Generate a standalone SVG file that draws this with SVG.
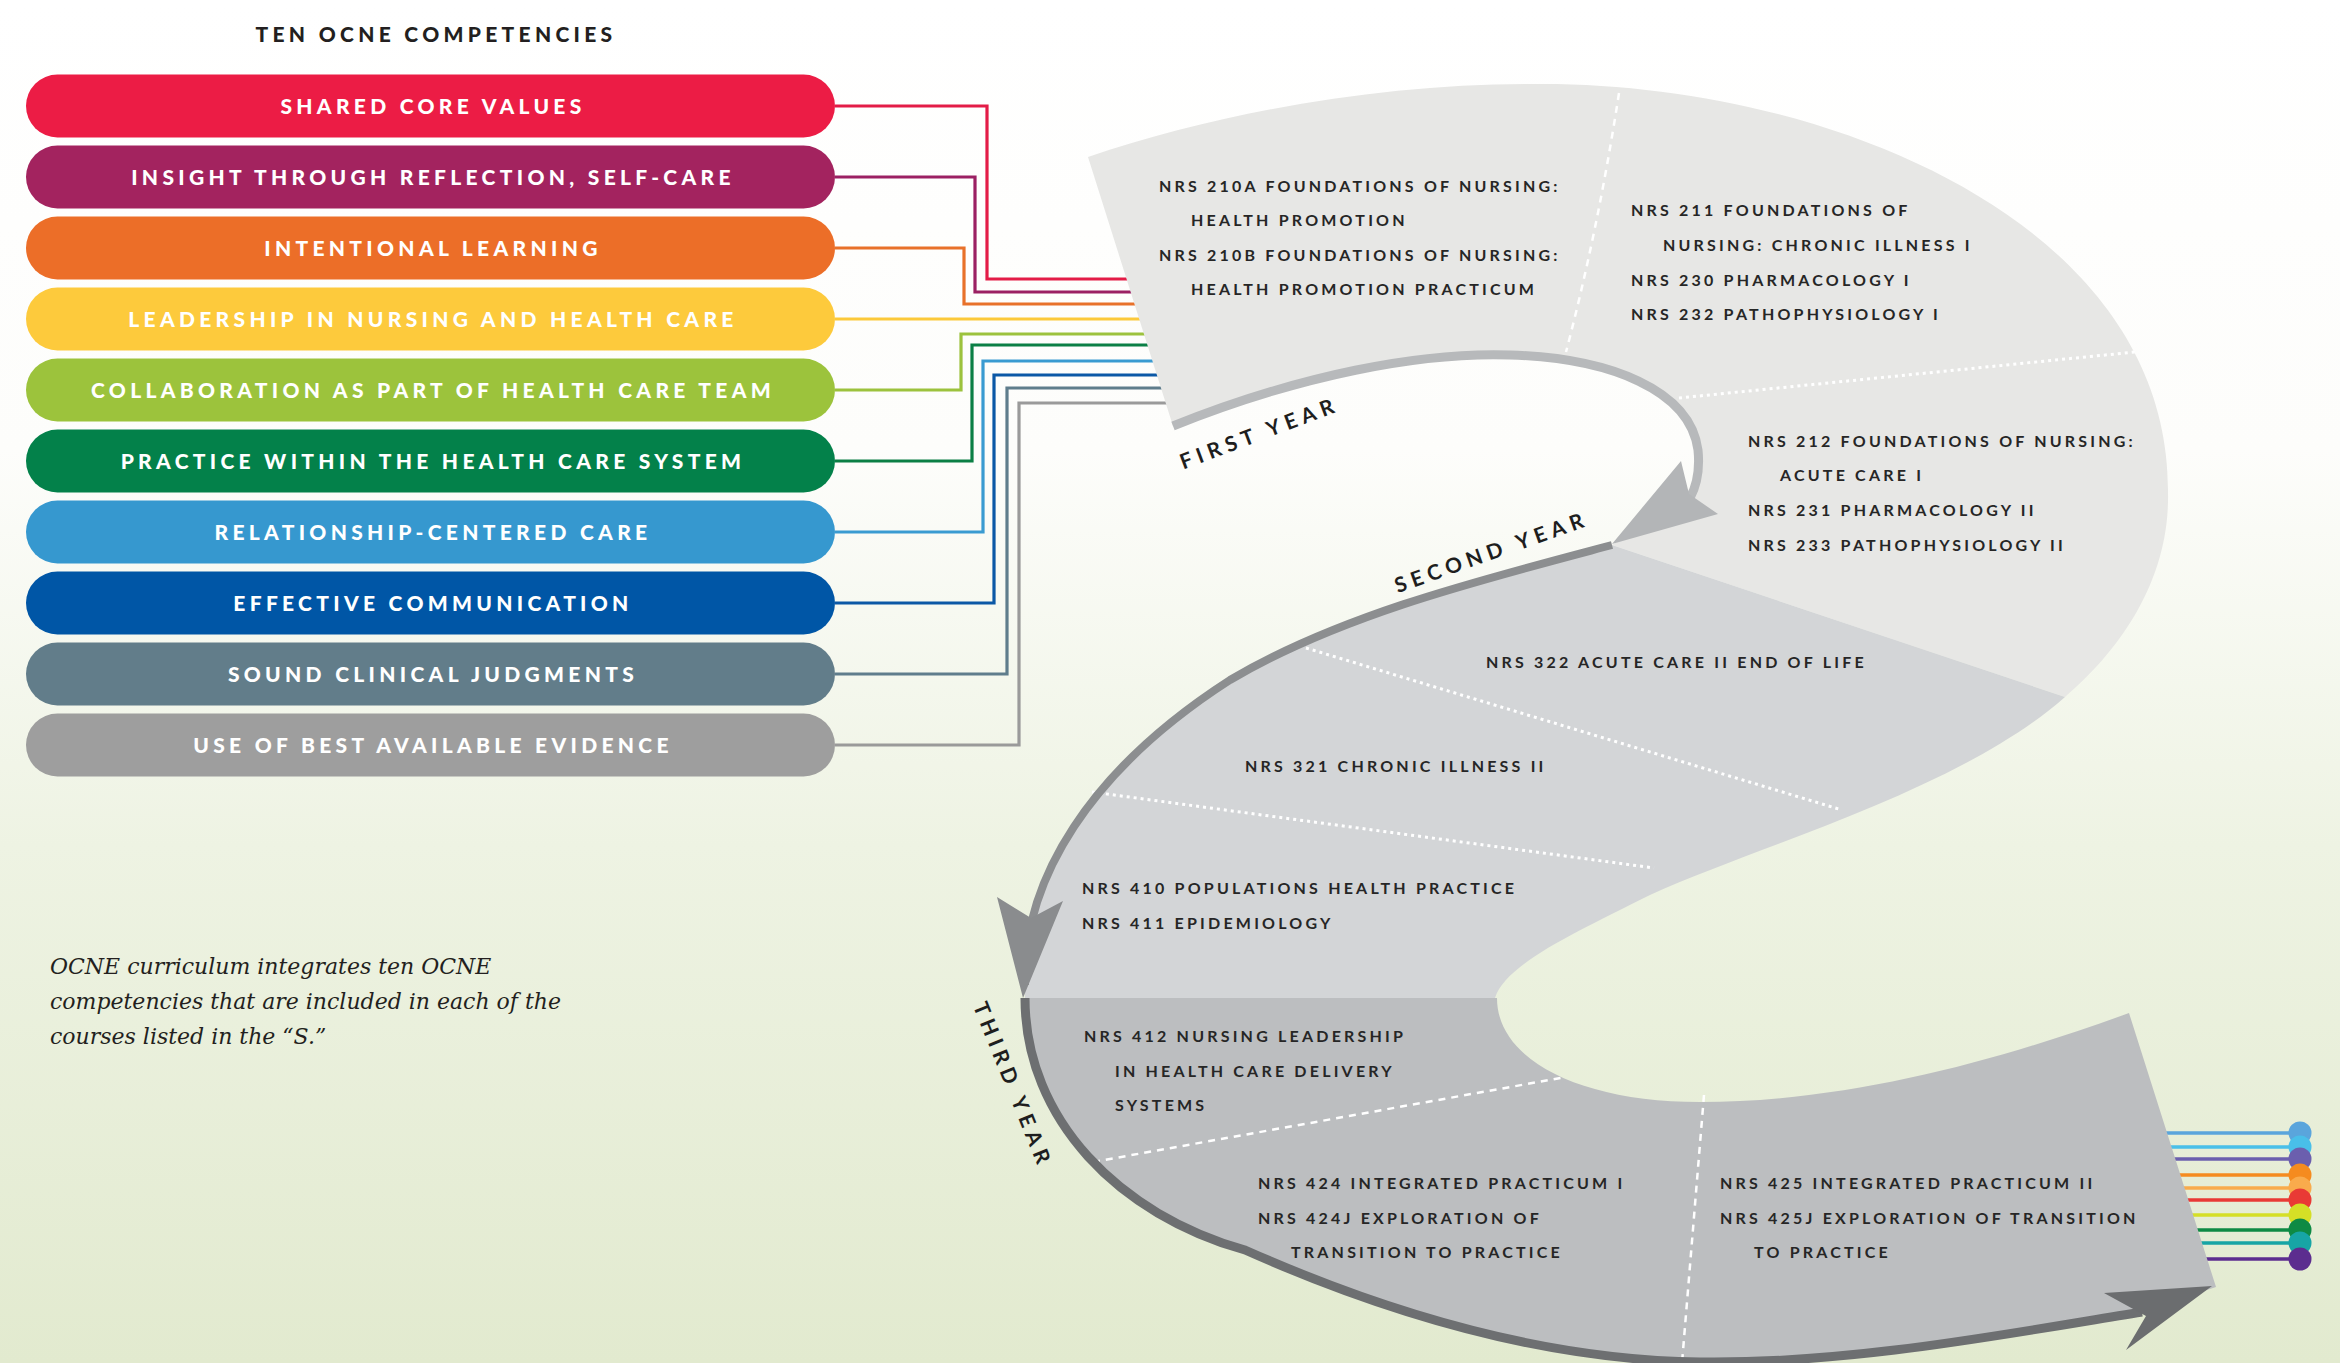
<svg xmlns="http://www.w3.org/2000/svg" width="2340" height="1363" viewBox="0 0 2340 1363">
<defs>
<linearGradient id="bg" x1="0" y1="0" x2="0" y2="1">
<stop offset="0" stop-color="#ffffff"/>
<stop offset="0.33" stop-color="#fdfdfb"/>
<stop offset="0.62" stop-color="#eef3e3"/>
<stop offset="1" stop-color="#e2eacf"/>
</linearGradient>
<style>
.pill{stroke:none}
.pt{font-family:Lato,"Liberation Sans",sans-serif;font-weight:900;font-size:21px;letter-spacing:4.3px;fill:#ffffff;text-anchor:middle}
.ttl{font-family:Lato,"Liberation Sans",sans-serif;font-weight:900;font-size:21px;letter-spacing:4.3px;fill:#231f20;text-anchor:middle}
.c{font-family:Lato,"Liberation Sans",sans-serif;font-weight:700;font-size:16px;letter-spacing:3.2px;fill:#262626}
.yr{font-family:Lato,"Liberation Sans",sans-serif;font-weight:700;font-size:21px;letter-spacing:5.5px;fill:#1e1e1e;text-anchor:middle}
.cap{font-family:"DejaVu Serif",serif;font-style:italic;font-size:22px;fill:#231f20}
.con{fill:none;stroke-width:3.2}
.rl{fill:none;stroke-width:3.5}
.dash{fill:none;stroke:#ffffff;stroke-width:2.5;stroke-dasharray:7 6}
.dot{fill:none;stroke:#ffffff;stroke-width:3;stroke-dasharray:3 4}
</style>
</defs>
<rect x="0" y="0" width="2340" height="1363" fill="url(#bg)"/>

<text class="ttl" x="436" y="42">TEN OCNE COMPETENCIES</text>

<g id="connectors">
<path class="con" stroke="#e31c47" d="M835,106 H987 V279 H1150"/>
<path class="con" stroke="#9b2063" d="M835,177 H975 V292 H1155"/>
<path class="con" stroke="#e8712a" d="M835,248 H964 V304 H1160"/>
<path class="con" stroke="#fcc93a" d="M835,319 H1165"/>
<path class="con" stroke="#9cc23d" d="M835,390 H961 V334 H1170"/>
<path class="con" stroke="#0b7f45" d="M835,461 H972 V345 H1172"/>
<path class="con" stroke="#3a9bd1" d="M835,532 H983 V361 H1176"/>
<path class="con" stroke="#0b58a6" d="M835,603 H994 V375 H1180"/>
<path class="con" stroke="#5f7d8c" d="M835,674 H1007 V388 H1184"/>
<path class="con" stroke="#9a9a9a" d="M835,745 H1019 V403 H1188"/>
<g id="right-lines">
<path class="rl" stroke="#5aa5dc" d="M2150,1133 H2300"/>
<path class="rl" stroke="#49bfe9" d="M2150,1147 H2300"/>
<path class="rl" stroke="#6b5fae" d="M2150,1159 H2300"/>
<path class="rl" stroke="#f58b1f" d="M2150,1175 H2300"/>
<path class="rl" stroke="#f9ab4c" d="M2150,1188 H2300"/>
<path class="rl" stroke="#e93a35" d="M2150,1200 H2300"/>
<path class="rl" stroke="#d5df26" d="M2150,1215 H2300"/>
<path class="rl" stroke="#0e8a44" d="M2150,1230 H2300"/>
<path class="rl" stroke="#17a5a5" d="M2150,1243 H2300"/>
<path class="rl" stroke="#5c2d8f" d="M2150,1259 H2300"/>
</g>
</g>

<g id="competencies">
<g id="c1"><rect class="pill" x="26" y="74.5" width="809" height="63" rx="31.5" fill="#ec1c45"/><text class="pt" x="433" y="114">SHARED CORE VALUES</text></g>
<g id="c2"><rect class="pill" x="26" y="145.5" width="809" height="63" rx="31.5" fill="#a3235f"/><text class="pt" x="433" y="185">INSIGHT THROUGH REFLECTION, SELF-CARE</text></g>
<g id="c3"><rect class="pill" x="26" y="216.5" width="809" height="63" rx="31.5" fill="#ec6e28"/><text class="pt" x="433" y="256">INTENTIONAL LEARNING</text></g>
<g id="c4"><rect class="pill" x="26" y="287.5" width="809" height="63" rx="31.5" fill="#fdca3c"/><text class="pt" x="433" y="327">LEADERSHIP IN NURSING AND HEALTH CARE</text></g>
<g id="c5"><rect class="pill" x="26" y="358.5" width="809" height="63" rx="31.5" fill="#9cc33c"/><text class="pt" x="433" y="398">COLLABORATION AS PART OF HEALTH CARE TEAM</text></g>
<g id="c6"><rect class="pill" x="26" y="429.5" width="809" height="63" rx="31.5" fill="#03814a"/><text class="pt" x="433" y="469">PRACTICE WITHIN THE HEALTH CARE SYSTEM</text></g>
<g id="c7"><rect class="pill" x="26" y="500.5" width="809" height="63" rx="31.5" fill="#3698cf"/><text class="pt" x="433" y="540">RELATIONSHIP-CENTERED CARE</text></g>
<g id="c8"><rect class="pill" x="26" y="571.5" width="809" height="63" rx="31.5" fill="#0056a6"/><text class="pt" x="433" y="611">EFFECTIVE COMMUNICATION</text></g>
<g id="c9"><rect class="pill" x="26" y="642.5" width="809" height="63" rx="31.5" fill="#627d8a"/><text class="pt" x="433" y="682">SOUND CLINICAL JUDGMENTS</text></g>
<g id="c10"><rect class="pill" x="26" y="713.5" width="809" height="63" rx="31.5" fill="#9e9e9e"/><text class="pt" x="433" y="753">USE OF BEST AVAILABLE EVIDENCE</text></g>
</g>

<g id="s-shape">
<g id="first-second-top">
<path fill="#e7e7e5" d="M1088,157 C1220,112 1380,84 1530,84 C1820,80 2170,220 2168,492 C2170,580 2120,650 2065,697 L1612,545 L1690,498 C1697,485 1700,470 1698,450 C1690,390 1610,358 1510,355 C1420,352 1300,375 1173,426 Z"/>
<path class="dash" d="M1619,93 Q1598,230 1566,352"/>
<path class="dot" d="M1679,398 L2135,352"/>
</g>
<g id="middle">
<path fill="#d3d5d7" d="M1612,545 L2065,697 C1960,790 1760,845 1650,895 C1570,935 1505,965 1495,998 L1025,998 C1022,880 1090,770 1230,680 C1340,615 1480,580 1612,545 Z"/>
<path class="dot" d="M1306,648 L1842,810"/>
<path class="dot" d="M1092,792 L1654,868"/>
</g>
<g id="bottom">
<path fill="#bcbec0" d="M1025,998 L1497,998 C1497,1060 1580,1102 1700,1102 C1850,1102 2000,1060 2129,1013 L2216,1287 L2140,1312 C2000,1335 1850,1364 1700,1362 C1540,1360 1380,1310 1245,1250 C1120,1215 1025,1120 1025,998 Z"/>
<path class="dash" d="M1093,1162 L1566,1077"/>
<path class="dash" stroke-dasharray="9 7" d="M1704,1095 L1682,1363"/>
</g>
<g id="tracks">
<path fill="none" stroke="#b7b9bb" stroke-width="9" d="M1173,426 C1300,375 1420,352 1510,355 C1610,358 1690,390 1698,450 C1700,470 1697,485 1690,498"/>
<polygon fill="#b3b5b7" points="1612,544 1681,461 1689,494 1718,514"/>
<path fill="none" stroke="#8c8e90" stroke-width="8" d="M1612,545 C1480,580 1340,615 1230,680 C1090,770 1022,880 1025,985"/>
<polygon fill="#8a8c8e" points="1023,998 997,897 1031,918 1063,901"/>
<path fill="none" stroke="#6d6f71" stroke-width="9" d="M1025,998 C1025,1120 1120,1215 1245,1250 C1380,1310 1540,1360 1700,1362 C1850,1364 2000,1335 2142,1312"/>
<polygon fill="#6b6d6f" points="2212,1286 2104,1293 2146,1316 2126,1350"/>
</g>
<text class="yr" transform="translate(1262,440) rotate(-20.6)">FIRST YEAR</text>
<text class="yr" transform="translate(1494,559) rotate(-19.5)">SECOND YEAR</text>
<text class="yr" transform="translate(1006,1088) rotate(68)">THIRD YEAR</text>
</g>

<g id="dots">
<circle cx="2300" cy="1133" r="11.5" fill="#5aa5dc"/>
<circle cx="2300" cy="1147" r="11.5" fill="#49bfe9"/>
<circle cx="2300" cy="1159" r="11.5" fill="#6b5fae"/>
<circle cx="2300" cy="1175" r="11.5" fill="#f58b1f"/>
<circle cx="2300" cy="1188" r="11.5" fill="#f9ab4c"/>
<circle cx="2300" cy="1200" r="11.5" fill="#e93a35"/>
<circle cx="2300" cy="1215" r="11.5" fill="#d5df26"/>
<circle cx="2300" cy="1230" r="11.5" fill="#0e8a44"/>
<circle cx="2300" cy="1243" r="11.5" fill="#17a5a5"/>
<circle cx="2300" cy="1259" r="11.5" fill="#5c2d8f"/>
</g>

<g id="courses">
<g id="y1a">
<text class="c" x="1159" y="192">NRS 210A FOUNDATIONS OF NURSING:</text>
<text class="c" x="1191" y="226">HEALTH PROMOTION</text>
<text class="c" x="1159" y="261">NRS 210B FOUNDATIONS OF NURSING:</text>
<text class="c" x="1191" y="295">HEALTH PROMOTION PRACTICUM</text>
</g>
<g id="y1b">
<text class="c" x="1631" y="216">NRS 211 FOUNDATIONS OF</text>
<text class="c" x="1663" y="251">NURSING: CHRONIC ILLNESS I</text>
<text class="c" x="1631" y="286">NRS 230 PHARMACOLOGY I</text>
<text class="c" x="1631" y="320">NRS 232 PATHOPHYSIOLOGY I</text>
</g>
<g id="y2a">
<text class="c" x="1748" y="447">NRS 212 FOUNDATIONS OF NURSING:</text>
<text class="c" x="1780" y="481">ACUTE CARE I</text>
<text class="c" x="1748" y="516">NRS 231 PHARMACOLOGY II</text>
<text class="c" x="1748" y="551">NRS 233 PATHOPHYSIOLOGY II</text>
</g>
<g id="y2b"><text class="c" x="1486" y="668">NRS 322 ACUTE CARE II END OF LIFE</text></g>
<g id="y2c"><text class="c" x="1245" y="772">NRS 321 CHRONIC ILLNESS II</text></g>
<g id="y3a">
<text class="c" x="1082" y="894">NRS 410 POPULATIONS HEALTH PRACTICE</text>
<text class="c" x="1082" y="929">NRS 411 EPIDEMIOLOGY</text>
</g>
<g id="y3b">
<text class="c" x="1084" y="1042">NRS 412 NURSING LEADERSHIP</text>
<text class="c" x="1115" y="1077">IN HEALTH CARE DELIVERY</text>
<text class="c" x="1115" y="1111">SYSTEMS</text>
</g>
<g id="y3c">
<text class="c" x="1258" y="1189">NRS 424 INTEGRATED PRACTICUM I</text>
<text class="c" x="1258" y="1224">NRS 424J EXPLORATION OF</text>
<text class="c" x="1291" y="1258">TRANSITION TO PRACTICE</text>
</g>
<g id="y3d">
<text class="c" x="1720" y="1189">NRS 425 INTEGRATED PRACTICUM II</text>
<text class="c" x="1720" y="1224">NRS 425J EXPLORATION OF TRANSITION</text>
<text class="c" x="1754" y="1258">TO PRACTICE</text>
</g>
</g>

<g id="caption">
<text class="cap" x="50" y="974">OCNE curriculum integrates ten OCNE</text>
<text class="cap" x="50" y="1009">competencies that are included in each of the</text>
<text class="cap" x="50" y="1044">courses listed in the “S.”</text>
</g>
</svg>
